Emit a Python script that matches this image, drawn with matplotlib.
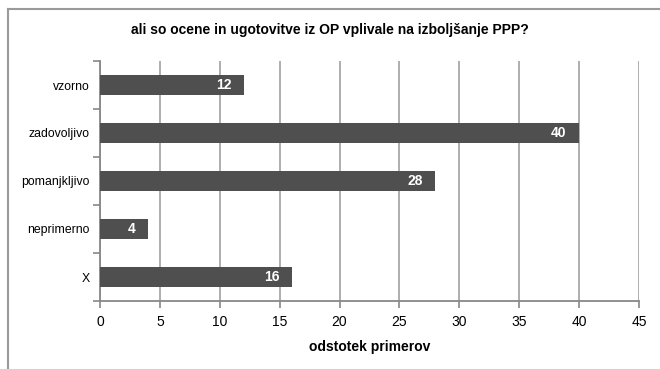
import numpy as np
import matplotlib
matplotlib.use("Agg")
import matplotlib.pyplot as plt
from matplotlib.lines import Line2D

categories = ["vzorno", "zadovoljivo", "pomanjkljivo", "neprimerno", "X"]
values = [12, 40, 28, 4, 16]
x_ticks = [0, 5, 10, 15, 20, 25, 30, 35, 40, 45]
title = "ali so ocene in ugotovitve iz OP vplivale na izboljšanje PPP?"
xlabel = "odstotek primerov"

plt.rcParams['font.family'] = ['Liberation Sans Narrow', 'Liberation Sans', 'DejaVu Sans']

W, H = 660, 369
fig = plt.figure(figsize=(W / 100, H / 100), dpi=100)
ax = fig.add_axes([100 / W, 1 - 301 / H, 539 / W, 240 / H])

# outer frame (cropped on right and bottom)
grey = "#9a9a9a"
fig.add_artist(Line2D([7.5 / W, 1.0], [1 - 8.5 / H, 1 - 8.5 / H], transform=fig.transFigure, color=grey, lw=1.5))
fig.add_artist(Line2D([7.5 / W, 7.5 / W], [1 - 8.5 / H, 0], transform=fig.transFigure, color=grey, lw=1.5))

y = np.arange(len(categories))
bars = ax.barh(y, values, height=0.42, color="#4f4f4f", zorder=3)
for yi, v in zip(y, values):
    ax.annotate(str(v), (v, yi), xytext=(-9, 0), textcoords="offset points",
                ha="right", va="center", color="white", fontsize=10, fontweight="bold", zorder=4)

ax.set_xlim(0, 45)
ax.set_ylim(len(categories) - 0.5, -0.5)
ax.set_xticks(x_ticks)
ax.set_yticks(y)
ax.set_yticklabels(categories, fontsize=8.8)
ax.set_yticks(np.arange(-0.5, len(categories), 1), minor=True)
ax.tick_params(axis="y", which="major", length=0, pad=7.5)
ax.tick_params(axis="y", which="minor", length=5, color="#888888", width=1.2, direction="out")
ax.tick_params(axis="x", length=5, color="#888888", width=1.2, direction="out", labelsize=10, pad=5)
ax.grid(axis="x", color="#999999", lw=1.1, zorder=0)
for s in ["top", "right"]:
    ax.spines[s].set_visible(False)
for s in ["left", "bottom"]:
    ax.spines[s].set_color("#888888")
    ax.spines[s].set_linewidth(1.3)

ax.set_xlabel(xlabel, fontsize=10, fontweight="bold", labelpad=8)
fig.text(330 / W, 1 - 30 / H, title, ha="center", va="center", fontsize=10, fontweight="bold")

fig.savefig("out.png", dpi=100)
